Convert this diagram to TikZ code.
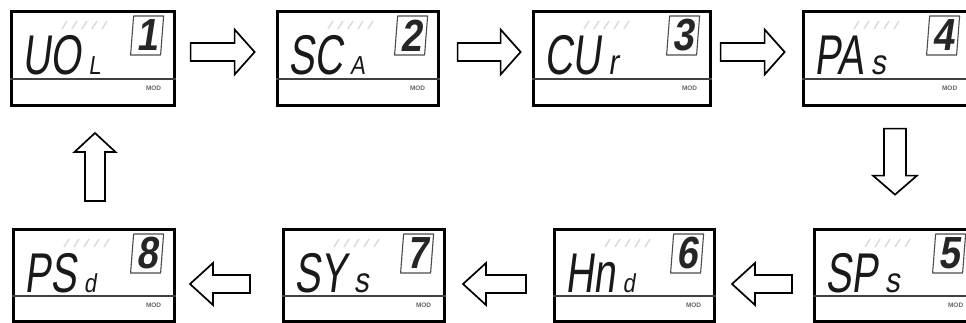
\documentclass[tikz,border=0pt]{standalone}
\usepackage{fontspec}
\setmainfont{Liberation Sans}
\newfontfamily\segfont[FakeSlant=0.18]{Liberation Sans}
\usetikzlibrary{calc}
\tikzset{
  lcdbox/.style={draw=black, line width=2.6pt, fill=white, inner sep=0pt, anchor=north west},
  divider/.style={draw=black!75, line width=1.3pt},
  digitframe/.style={draw=black!70, line width=1.1pt, line join=round},
  speedbar/.style={draw=black!15, line width=1.4pt},
  modtext/.style={font=\fontsize{6.5}{6.5}\selectfont\bfseries, text=black!60, inner sep=0pt},
  bigtext/.style={font=\segfont\fontsize{56}{56}\selectfont, inner sep=0pt, anchor=base west, text=black!90},
  smalltext/.style={inner sep=0pt, anchor=base west, text=black!90},
  digittext/.style={font=\segfont\bfseries\fontsize{45}{45}\selectfont, inner sep=0pt, text=black!85},
  arrowline/.style={draw=black, line width=1.7pt, fill=white, line join=miter},
  pics/barrow/.style n args={4}{code={%
    \draw[arrowline] (0,-#3) -- (#1-#2,-#3) -- (#1-#2,-#4) -- (#1,0) -- (#1-#2,#4) -- (#1-#2,#3) -- (0,#3) -- cycle;}}
}
% #1 name, #2 x, #3 y, #4 width, #5 height, #6 divider offset, #7 big text, #8 small text, #9 digit
\newcommand\lcdpanel[9]{%
  \node[lcdbox, minimum width=#4pt, minimum height=#5pt] (#1) at (#2,#3) {};
  \draw[divider] ($(#1.north west)+(0,#6)$) -- ($(#1.north east)+(0,#6)$);
  \foreach \i in {0,...,4}{\draw[speedbar] ($(#1.north west)+(52+10*\i,19)$) -- ++(5,-8);}
  \node[modtext, anchor=center] (#1-mod) at ($(#1.north east)+(-22,#6+9)$) {MOD};
  \node[bigtext] (#1-big) at ($(#1.north west)+(12,64)$) {\scalebox{0.7}[1]{#7}};
  \node[smalltext] (#1-small) at ($(#1-big.base east)+(7,0)$) {#8};
  \draw[digitframe] ($(#1.north east)+(-45,45)$) -- ($(#1.north east)+(-42,6)$) -- ($(#1.north east)+(-12,6)$) -- ($(#1.north east)+(-15,45)$) -- cycle;
  \node[digittext] (#1-digit) at ($(#1.north east)+(-28.5,25.5)$) {\scalebox{0.85}[1]{#9}};
}
\newcommand\smallcap[1]{{\segfont\fontsize{26}{26}\selectfont\scalebox{0.85}[1]{#1}}}
\newcommand\smalllow[1]{{\segfont\fontsize{35}{35}\selectfont\scalebox{0.85}[1]{#1}}}
\begin{document}
\begin{tikzpicture}[x=1pt, y=-1pt]
\useasboundingbox (0,0) rectangle (966,322);
\clip (0,0) rectangle (966,322);
\fill[white] (0,0) rectangle (966,322);
% top row
\lcdpanel{b1}{10}{10}{163}{94}{69}{UO}{\smallcap{L}}{1}
\lcdpanel{b2}{276}{10}{161}{94}{69}{SC}{\smallcap{A}}{2}
\lcdpanel{b3}{532}{10}{177}{94}{69}{CU}{\smalllow{r}}{3}
\lcdpanel{b4}{802}{10}{167}{94}{69}{PA}{\smalllow{s}}{4}
% bottom row
\lcdpanel{b5}{813}{228}{162}{92}{68}{SP}{\smalllow{s}}{5}
\lcdpanel{b6}{553}{228}{160}{92}{68}{Hn}{\smallcap{d}}{6}
\lcdpanel{b7}{282}{228}{161}{92}{68}{SY}{\smalllow{s}}{7}
\lcdpanel{b8}{12}{228}{161}{92}{68}{PS}{\smallcap{d}}{8}
% block arrows
\pic at ($(b1.north east)+(15,42)$) {barrow={64}{20}{9}{22.5}};
\pic at ($(b2.north east)+(18,42)$) {barrow={63}{20}{9}{22.5}};
\pic at ($(b3.north east)+(9,42)$) {barrow={64}{20}{9}{22.5}};
\pic[rotate=-90] at ($(b4.south west)+(93,22)$) {barrow={66}{19}{11}{22}};
\pic[rotate=180] at ($(b5.north west)+(-21,56)$) {barrow={60}{23}{9}{21}};
\pic[rotate=180] at ($(b6.north west)+(-27,56)$) {barrow={63}{23}{9}{21}};
\pic[rotate=180] at ($(b7.north west)+(-32,56)$) {barrow={60}{23}{9}{21}};
\pic[rotate=90] at ($(b8.north west)+(83,-27)$) {barrow={68}{19}{10}{20.5}};
\end{tikzpicture}
\end{document}
